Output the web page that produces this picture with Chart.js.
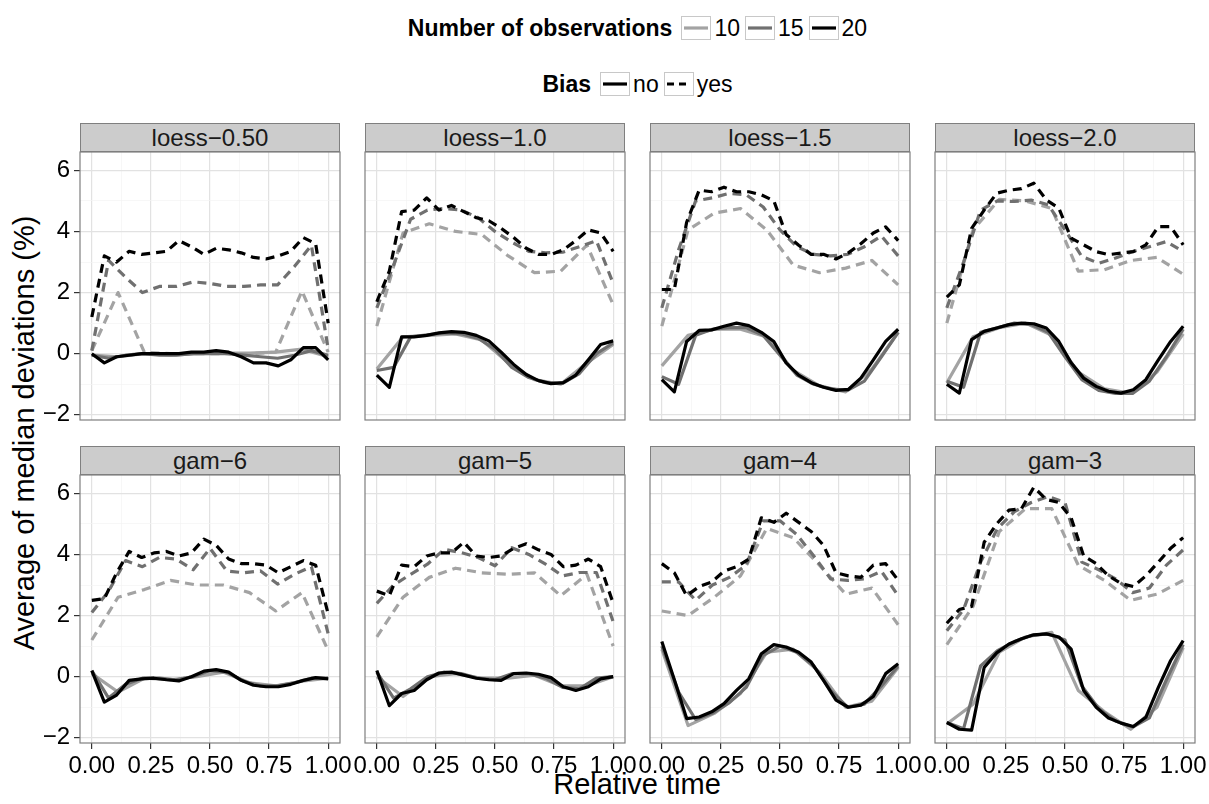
<!DOCTYPE html>
<html>
<head>
<meta charset="utf-8">
<script src="https://cdn.jsdelivr.net/npm/chart.js"></script>
<style>
  body { margin: 0; background: #fff; width: 1209px; height: 804px; position: relative; overflow: hidden;
         font-family: 'Liberation Sans', Arial, Helvetica, sans-serif; color: #000; }
  canvas { position: absolute; }
  .strip { position: absolute; width: 260px; height: 29px; box-sizing: border-box; background: #cccccc;
           border: 1px solid #7f7f7f; font-size: 24px; line-height: 27px; text-align: center; color: #1a1a1a; }
  .legend-row { position: absolute; left: 80px; width: 1115px; height: 30px; display: flex;
                justify-content: center; align-items: center; font-size: 23px; }
  .legend-row b { margin-right: 9px; }
  .key { display: inline-block; width: 30px; height: 24px; box-sizing: border-box; border: 1px solid #c8c8c8;
         margin-right: 3px; }
  .key svg { display: block; }
  .lab { margin-right: 5px; }
  .title { position: absolute; font-size: 29px; white-space: nowrap; }
</style>
</head>
<body>
<div class="legend-row" style="top:13px">
  <b>Number of observations</b>
  <span class="key"><svg width="28" height="22"><line x1="2" y1="11" x2="26" y2="11" stroke="#a3a3a3" stroke-width="3.2"/></svg></span><span class="lab">10</span>
  <span class="key"><svg width="28" height="22"><line x1="2" y1="11" x2="26" y2="11" stroke="#707070" stroke-width="3.2"/></svg></span><span class="lab">15</span>
  <span class="key"><svg width="28" height="22"><line x1="2" y1="11" x2="26" y2="11" stroke="#000" stroke-width="3.2"/></svg></span><span>20</span>
</div>
<div class="legend-row" style="top:69px">
  <b>Bias</b>
  <span class="key"><svg width="28" height="22"><line x1="2" y1="11" x2="26" y2="11" stroke="#000" stroke-width="3.2"/></svg></span><span class="lab">no</span>
  <span class="key"><svg width="28" height="22"><line x1="2" y1="11" x2="26" y2="11" stroke="#000" stroke-width="3.2" stroke-dasharray="7 5"/></svg></span><span>yes</span>
</div>
<div class="title" style="left:637px; top:768px; transform:translateX(-50%)">Relative time</div>
<div class="title" style="left:24px; top:433px; transform:translate(-50%,-50%) rotate(-90deg)">Average of median deviations (%)</div>

<script>
// x positions of the 10, 15 and 20 observation series
const x10 = [0, 0.111, 0.222, 0.333, 0.444, 0.556, 0.667, 0.778, 0.889, 1];
const x15 = [0, 0.071, 0.143, 0.214, 0.286, 0.357, 0.429, 0.5, 0.571, 0.643, 0.714, 0.786, 0.857, 0.929, 1];
const x20 = [0, 0.053, 0.105, 0.158, 0.211, 0.263, 0.316, 0.368, 0.421, 0.474, 0.526, 0.579, 0.632, 0.684, 0.737, 0.789, 0.842, 0.895, 0.947, 1];

const panelNames = ['loess\u22120.50', 'loess\u22121.0', 'loess\u22121.5', 'loess\u22122.0', 'gam\u22126', 'gam\u22125', 'gam\u22124', 'gam\u22123'];
const xTickValues = [0, 0.25, 0.5, 0.75, 1];
const xTickLabels = ['0.00', '0.25', '0.50', '0.75', '1.00'];
const yTickValues = [-2, 0, 2, 4, 6];
const yTickLabels = ['\u22122', '0', '2', '4', '6'];

// loess-0.50
const l050_no10 = [-0.05, -0.1, 0.0, -0.05, 0.0, 0.02, 0.02, 0.05, 0.15, -0.1];
const l050_no15 = [-0.05, -0.15, -0.05, 0.0, -0.05, -0.05, 0.0, 0.0, 0.0, -0.05, -0.1, -0.15, -0.05, 0.1, -0.05];
const l050_no20 = [0.0, -0.3, -0.1, -0.05, 0.0, 0.0, 0.0, 0.0, 0.05, 0.05, 0.1, 0.05, -0.1, -0.3, -0.3, -0.4, -0.2, 0.2, 0.2, -0.2];
const l050_yes10 = [0.1, 2.0, 0.05, 0.0, 0.0, 0.0, 0.0, 0.05, 2.05, 0.05];
const l050_yes15 = [0.1, 3.05, 2.5, 2.0, 2.2, 2.2, 2.35, 2.3, 2.2, 2.2, 2.25, 2.25, 2.85, 3.55, 0.15];
const l050_yes20 = [1.2, 3.2, 3.0, 3.35, 3.25, 3.3, 3.35, 3.7, 3.5, 3.25, 3.45, 3.4, 3.3, 3.15, 3.1, 3.2, 3.35, 3.8, 3.6, 1.0];
// loess-1.0
const l10_no10 = [-0.5, 0.55, 0.6, 0.65, 0.45, -0.3, -0.85, -1.0, -0.3, 0.3];
const l10_no15 = [-0.55, -0.45, 0.55, 0.62, 0.68, 0.65, 0.5, 0.15, -0.45, -0.78, -0.95, -0.97, -0.65, 0.0, 0.35];
const l10_no20 = [-0.7, -1.1, 0.55, 0.55, 0.6, 0.68, 0.72, 0.7, 0.6, 0.42, 0.05, -0.35, -0.68, -0.88, -0.98, -0.95, -0.7, -0.2, 0.3, 0.42];
const l10_yes10 = [0.9, 3.95, 4.25, 4.0, 3.9, 3.2, 2.65, 2.7, 3.55, 1.6];
const l10_yes15 = [1.5, 2.9, 4.4, 4.7, 4.75, 4.7, 4.45, 4.0, 3.65, 3.35, 3.3, 3.32, 3.5, 3.7, 2.3];
const l10_yes20 = [1.7, 2.7, 4.65, 4.7, 5.1, 4.7, 4.85, 4.65, 4.45, 4.35, 4.1, 3.8, 3.45, 3.25, 3.25, 3.4, 3.7, 4.05, 3.95, 3.35];
// loess-1.5
const l15_no10 = [-0.4, 0.6, 0.8, 0.8, 0.55, -0.55, -1.05, -1.25, -0.5, 0.7];
const l15_no15 = [-0.75, -1.0, 0.6, 0.8, 0.85, 0.85, 0.6, -0.05, -0.7, -1.0, -1.15, -1.2, -0.9, -0.1, 0.7];
const l15_no20 = [-0.85, -1.25, 0.4, 0.76, 0.78, 0.9, 1.0, 0.92, 0.7, 0.4, -0.3, -0.7, -0.95, -1.1, -1.2, -1.17, -0.8, -0.2, 0.4, 0.8];
const l15_yes10 = [0.9, 4.05, 4.6, 4.75, 4.05, 2.9, 2.65, 2.8, 3.05, 2.25];
const l15_yes15 = [1.5, 3.4, 5.0, 5.1, 5.25, 5.2, 4.8, 4.05, 3.5, 3.25, 3.2, 3.25, 3.5, 3.85, 3.2];
const l15_yes20 = [2.1, 2.1, 4.3, 5.35, 5.3, 5.45, 5.3, 5.3, 5.2, 5.0, 3.9, 3.55, 3.25, 3.25, 3.1, 3.3, 3.6, 3.95, 4.15, 3.7];
// loess-2.0
const l20_no10 = [-0.95, 0.55, 0.85, 1.0, 0.6, -0.6, -1.15, -1.3, -0.6, 0.65];
const l20_no15 = [-0.9, -1.1, 0.7, 0.85, 1.0, 0.95, 0.7, -0.1, -0.85, -1.2, -1.3, -1.3, -0.9, -0.1, 0.8];
const l20_no20 = [-1.0, -1.29, 0.46, 0.73, 0.84, 0.95, 1.0, 0.98, 0.84, 0.4, -0.3, -0.8, -1.07, -1.23, -1.29, -1.18, -0.85, -0.2, 0.4, 0.9];
const l20_yes10 = [1.0, 4.05, 5.05, 5.0, 4.75, 2.7, 2.75, 3.05, 3.15, 2.6];
const l20_yes15 = [1.5, 3.0, 4.7, 5.0, 4.98, 5.03, 4.87, 4.05, 3.18, 2.96, 3.13, 3.34, 3.5, 3.67, 3.34];
const l20_yes20 = [1.85, 2.25, 4.1, 4.7, 5.25, 5.35, 5.4, 5.58, 5.03, 4.76, 3.78, 3.56, 3.34, 3.24, 3.29, 3.34, 3.56, 4.16, 4.16, 3.56];
// gam-6
const g6_no10 = [0.1, -0.5, -0.05, -0.1, 0.0, 0.15, -0.2, -0.3, -0.15, -0.05];
const g6_no15 = [0.2, -0.7, -0.25, -0.05, -0.05, -0.1, 0.0, 0.2, 0.15, -0.15, -0.3, -0.3, -0.2, -0.05, -0.05];
const g6_no20 = [0.2, -0.83, -0.6, -0.12, -0.07, -0.05, -0.1, -0.14, 0.0, 0.18, 0.23, 0.15, -0.12, -0.28, -0.33, -0.33, -0.25, -0.12, -0.03, -0.07];
const g6_yes10 = [1.2, 2.6, 2.85, 3.15, 3.0, 3.0, 2.75, 2.15, 2.75, 0.85];
const g6_yes15 = [2.1, 2.8, 3.8, 3.6, 3.9, 3.85, 3.5, 4.2, 3.46, 3.4, 3.46, 3.03, 3.35, 3.6, 1.4];
const g6_yes20 = [2.5, 2.55, 3.4, 4.1, 3.9, 4.05, 4.1, 3.95, 4.05, 4.5, 4.3, 3.85, 3.7, 3.7, 3.65, 3.4, 3.6, 3.8, 3.65, 2.05];
// gam-5
const g5_no10 = [0.0, -0.65, 0.0, 0.1, -0.05, -0.05, 0.05, -0.3, -0.3, 0.0];
const g5_no15 = [0.15, -0.7, -0.4, 0.0, 0.15, 0.1, -0.05, -0.1, 0.1, 0.1, -0.05, -0.35, -0.4, -0.05, 0.0];
const g5_no20 = [0.2, -0.95, -0.55, -0.45, -0.1, 0.12, 0.15, 0.05, -0.05, -0.1, -0.12, 0.1, 0.12, 0.08, -0.03, -0.33, -0.45, -0.33, -0.07, 0.0];
const g5_yes10 = [1.3, 2.6, 3.25, 3.55, 3.4, 3.35, 3.4, 2.65, 3.35, 1.0];
const g5_yes15 = [2.4, 3.0, 3.35, 3.68, 4.17, 4.06, 3.9, 3.63, 4.22, 4.0, 3.68, 3.3, 3.41, 3.41, 1.8];
const g5_yes20 = [2.8, 2.65, 3.65, 3.6, 3.95, 4.05, 4.05, 4.4, 3.95, 3.9, 3.95, 4.2, 4.35, 4.15, 4.0, 3.6, 3.65, 3.85, 3.6, 2.4];
// gam-4
const g4_no10 = [0.9, -1.6, -1.2, -0.55, 0.8, 0.9, 0.15, -1.0, -0.8, 0.3];
const g4_no15 = [1.0, -0.5, -1.4, -1.2, -0.85, -0.35, 0.7, 1.0, 0.8, 0.35, -0.45, -1.0, -0.9, -0.3, 0.35];
const g4_no20 = [1.15, -0.1, -1.37, -1.32, -1.15, -0.88, -0.45, -0.07, 0.75, 1.05, 0.97, 0.8, 0.48, -0.12, -0.77, -1.0, -0.93, -0.65, 0.1, 0.42];
const g4_yes10 = [2.15, 2.0, 2.6, 3.3, 4.85, 4.55, 3.65, 2.7, 2.9, 1.7];
const g4_yes15 = [3.1, 3.1, 2.5, 3.0, 3.25, 3.65, 5.1, 5.1, 4.65, 3.95, 3.2, 3.15, 3.2, 3.45, 2.65];
const g4_yes20 = [3.7, 3.4, 2.65, 2.95, 3.1, 3.45, 3.6, 3.85, 5.2, 5.05, 5.35, 5.05, 4.75, 4.3, 3.4, 3.3, 3.25, 3.65, 3.7, 3.15];
// gam-3
const g3_no10 = [-1.55, -0.9, 0.8, 1.3, 1.45, -0.45, -1.15, -1.72, -1.0, 0.95];
const g3_no15 = [-1.5, -1.7, 0.35, 0.85, 1.15, 1.35, 1.4, 1.2, -0.3, -1.05, -1.45, -1.65, -1.35, -0.1, 1.05];
const g3_no20 = [-1.5, -1.72, -1.75, 0.3, 0.78, 1.07, 1.24, 1.37, 1.4, 1.3, 0.9, -0.45, -1.0, -1.35, -1.52, -1.63, -1.33, -0.35, 0.53, 1.18];
const g3_yes10 = [1.05, 2.3, 4.75, 5.5, 5.5, 3.65, 3.15, 2.5, 2.7, 3.15];
const g3_yes15 = [1.5, 2.2, 3.75, 4.85, 5.4, 5.7, 5.9, 5.7, 3.75, 3.5, 3.2, 2.75, 2.9, 3.65, 4.15];
const g3_yes20 = [1.75, 2.2, 2.3, 4.4, 5.0, 5.45, 5.5, 6.2, 5.8, 5.7, 5.2, 3.95, 3.7, 3.3, 3.05, 2.95, 3.3, 3.75, 4.2, 4.55];

// order inside each panel: no10, no15, no20, yes10, yes15, yes20
const panelSeries = [
  [l050_no10, l050_no15, l050_no20, l050_yes10, l050_yes15, l050_yes20],
  [l10_no10, l10_no15, l10_no20, l10_yes10, l10_yes15, l10_yes20],
  [l15_no10, l15_no15, l15_no20, l15_yes10, l15_yes15, l15_yes20],
  [l20_no10, l20_no15, l20_no20, l20_yes10, l20_yes15, l20_yes20],
  [g6_no10, g6_no15, g6_no20, g6_yes10, g6_yes15, g6_yes20],
  [g5_no10, g5_no15, g5_no20, g5_yes10, g5_yes15, g5_yes20],
  [g4_no10, g4_no15, g4_no20, g4_yes10, g4_yes15, g4_yes20],
  [g3_no10, g3_no15, g3_no20, g3_yes10, g3_yes15, g3_yes20]
];

// layout
const colLeft = [80, 365, 650, 935];
const rowTop = [152, 475];
const plotW = 260, plotH = 268, stripH = 29, M = 20;
const xs = [x10, x15, x20];
const lineColors = ['#a3a3a3', '#707070', '#000000'];
const FONT = "'Liberation Sans', Arial, Helvetica, sans-serif";
const xGrid = [0, 0.125, 0.25, 0.375, 0.5, 0.625, 0.75, 0.875, 1];
const yGrid = [-2, -1, 0, 1, 2, 3, 4, 5, 6];
const majorCol = '#e2e2e2', minorCol = '#f3f3f3';

const framePlugin = {
  id: 'frame',
  afterDatasetsDraw(chart) {
    const {ctx, chartArea: a} = chart;
    ctx.save();
    ctx.strokeStyle = '#7f7f7f';
    ctx.lineWidth = 1.2;
    ctx.strokeRect(a.left, a.top, a.right - a.left, a.bottom - a.top);
    ctx.restore();
  }
};

function makePanel(i) {
  const col = i % 4, row = Math.floor(i / 4);
  const isLeft = col === 0, isBottom = row === 1;
  const yW = isLeft ? 40 : 0, xH = isBottom ? 40 : 0;

  const strip = document.createElement('div');
  strip.className = 'strip';
  strip.style.left = colLeft[col] + 'px';
  strip.style.top = (rowTop[row] - stripH) + 'px';
  strip.textContent = panelNames[i];
  document.body.appendChild(strip);

  const canvas = document.createElement('canvas');
  canvas.width = plotW + 2 * M + yW;
  canvas.height = plotH + 2 * M + xH;
  canvas.style.left = (colLeft[col] - M - yW) + 'px';
  canvas.style.top = (rowTop[row] - M) + 'px';
  document.body.appendChild(canvas);

  const datasets = panelSeries[i].map((vals, j) => {
    const n = j % 3;
    return {
      data: xs[n].map((x, k) => ({x: x, y: vals[k]})),
      borderColor: lineColors[n],
      borderWidth: 3.2,
      borderDash: j >= 3 ? [9, 6] : [],
      borderCapStyle: 'butt',
      borderJoinStyle: 'round',
      pointRadius: 0,
      tension: 0,
      fill: false,
      order: 2 - n
    };
  });

  new Chart(canvas, {
    type: 'line',
    data: { datasets: datasets },
    plugins: [framePlugin],
    options: {
      responsive: false,
      animation: false,
      devicePixelRatio: 1,
      events: [],
      layout: { padding: M },
      plugins: { legend: { display: false }, tooltip: { enabled: false } },
      scales: {
        x: {
          type: 'linear', min: -0.05, max: 1.05,
          afterBuildTicks: s => { s.ticks = xGrid.map(v => ({value: v})); },
          afterFit: s => { s.height = xH; s.paddingLeft = 0; s.paddingRight = 0; },
          border: { display: false },
          grid: {
            color: c => (c.tick && xTickValues.includes(c.tick.value)) ? majorCol : minorCol,
            lineWidth: c => (c.tick && xTickValues.includes(c.tick.value)) ? 1.2 : 0.7,
            drawTicks: isBottom,
            tickLength: 6,
            tickWidth: 1.2,
            tickColor: c => (c.tick && xTickValues.includes(c.tick.value)) ? '#333333' : 'rgba(0,0,0,0)'
          },
          ticks: {
            display: isBottom, autoSkip: false, maxRotation: 0, minRotation: 0, padding: 3,
            color: '#000', font: { size: 24, family: FONT },
            callback: v => { const k = xTickValues.indexOf(v); return k >= 0 ? xTickLabels[k] : ''; }
          }
        },
        y: {
          type: 'linear', min: -2.17, max: 6.6,
          afterBuildTicks: s => { s.ticks = yGrid.map(v => ({value: v})); },
          afterFit: s => { s.width = yW; s.paddingTop = 0; s.paddingBottom = 0; },
          border: { display: false },
          grid: {
            color: c => (c.tick && yTickValues.includes(c.tick.value)) ? majorCol : minorCol,
            lineWidth: c => (c.tick && yTickValues.includes(c.tick.value)) ? 1.2 : 0.7,
            drawTicks: isLeft,
            tickLength: 6,
            tickWidth: 1.2,
            tickColor: c => (c.tick && yTickValues.includes(c.tick.value)) ? '#333333' : 'rgba(0,0,0,0)'
          },
          ticks: {
            display: isLeft, autoSkip: false, padding: 4,
            color: '#000', font: { size: 24, family: FONT },
            callback: v => { const k = yTickValues.indexOf(v); return k >= 0 ? yTickLabels[k] : ''; }
          }
        }
      }
    }
  });
}

for (let i = 0; i < 8; i++) makePanel(i);
</script>
</body>
</html>
